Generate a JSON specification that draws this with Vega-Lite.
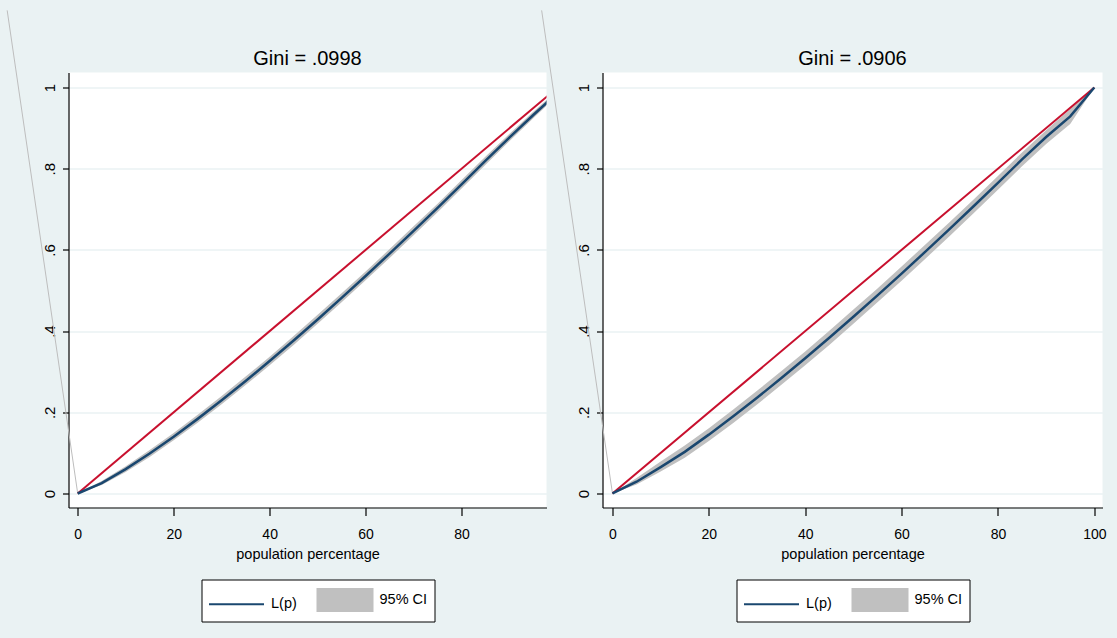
{
  "$schema": "https://vega.github.io/schema/vega-lite/v6.json",
  "background": "#EAF2F3",
  "padding": {"left": 4.5, "top": 7.5, "right": 14, "bottom": 17},
  "bounds": "flush",
  "spacing": 56,
  "datasets": {
    "left": [
      {"p": 0, "L": 0, "lo": 0, "hi": 0},
      {"p": 5, "L": 0.0257, "lo": 0.021, "hi": 0.031},
      {"p": 10, "L": 0.06, "lo": 0.053, "hi": 0.067},
      {"p": 15, "L": 0.0985, "lo": 0.09, "hi": 0.107},
      {"p": 20, "L": 0.1399, "lo": 0.131, "hi": 0.149},
      {"p": 25, "L": 0.1838, "lo": 0.174, "hi": 0.194},
      {"p": 30, "L": 0.2296, "lo": 0.22, "hi": 0.24},
      {"p": 35, "L": 0.2772, "lo": 0.267, "hi": 0.288},
      {"p": 40, "L": 0.3264, "lo": 0.316, "hi": 0.337},
      {"p": 45, "L": 0.3769, "lo": 0.366, "hi": 0.388},
      {"p": 50, "L": 0.4287, "lo": 0.418, "hi": 0.44},
      {"p": 55, "L": 0.4817, "lo": 0.471, "hi": 0.493},
      {"p": 60, "L": 0.5357, "lo": 0.525, "hi": 0.547},
      {"p": 65, "L": 0.5908, "lo": 0.58, "hi": 0.602},
      {"p": 70, "L": 0.6467, "lo": 0.636, "hi": 0.658},
      {"p": 75, "L": 0.7036, "lo": 0.693, "hi": 0.714},
      {"p": 80, "L": 0.7613, "lo": 0.751, "hi": 0.772},
      {"p": 85, "L": 0.8199, "lo": 0.81, "hi": 0.83},
      {"p": 90, "L": 0.877, "lo": 0.868, "hi": 0.886},
      {"p": 95, "L": 0.933, "lo": 0.925, "hi": 0.941},
      {"p": 97.7, "L": 0.962, "lo": 0.955, "hi": 0.969},
      {"p": 100, "L": 1, "lo": 1, "hi": 1}
    ],
    "right": [
      {"p": 0, "L": 0, "lo": 0, "hi": 0},
      {"p": 5, "L": 0.029, "lo": 0.022, "hi": 0.038},
      {"p": 10, "L": 0.065, "lo": 0.054, "hi": 0.079},
      {"p": 15, "L": 0.1026, "lo": 0.088, "hi": 0.118},
      {"p": 20, "L": 0.145, "lo": 0.129, "hi": 0.161},
      {"p": 25, "L": 0.1895, "lo": 0.173, "hi": 0.206},
      {"p": 30, "L": 0.2358, "lo": 0.219, "hi": 0.253},
      {"p": 35, "L": 0.2837, "lo": 0.267, "hi": 0.301},
      {"p": 40, "L": 0.333, "lo": 0.316, "hi": 0.35},
      {"p": 45, "L": 0.3836, "lo": 0.366, "hi": 0.401},
      {"p": 50, "L": 0.4353, "lo": 0.418, "hi": 0.453},
      {"p": 55, "L": 0.488, "lo": 0.471, "hi": 0.505},
      {"p": 60, "L": 0.5417, "lo": 0.524, "hi": 0.559},
      {"p": 65, "L": 0.5963, "lo": 0.579, "hi": 0.614},
      {"p": 70, "L": 0.6518, "lo": 0.634, "hi": 0.669},
      {"p": 75, "L": 0.7081, "lo": 0.691, "hi": 0.725},
      {"p": 80, "L": 0.7651, "lo": 0.748, "hi": 0.782},
      {"p": 85, "L": 0.8228, "lo": 0.806, "hi": 0.84},
      {"p": 90, "L": 0.878, "lo": 0.861, "hi": 0.895},
      {"p": 95, "L": 0.929, "lo": 0.91, "hi": 0.947},
      {"p": 100, "L": 1, "lo": 1, "hi": 1}
    ],
    "eq": [{"p": 0, "v": 0}, {"p": 100, "v": 1}],
    "art": [{"p": 0, "v": 0}, {"p": -14.7, "v": 1.19}]
  },
  "hconcat": [
    {
      "width": 478,
      "height": 435,
      "title": {"text": "Gini = .0998"},
      "layer": [
        {
          "data": {"name": "left"},
          "mark": {"type": "area", "clip": true, "opacity": 1, "fillOpacity": 1},
          "encoding": {
            "x": {"field": "p", "type": "quantitative", "scale": {"domain": [-1.92, 97.7], "nice": false, "zero": false}, "axis": {"values": [0, 20, 40, 60, 80], "title": "population percentage"}},
            "y": {"field": "lo", "type": "quantitative", "scale": {"domain": [-0.0345, 1.037], "nice": false, "zero": false}, "axis": {"values": [0, 0.2, 0.4, 0.6, 0.8, 1], "title": null, "labelExpr": "datum.value == 0 ? '0' : datum.value == 1 ? '1' : replace(format(datum.value, '.1f'), '0.', '.')"}},
            "y2": {"field": "hi"},
            "color": {"datum": "95% CI", "type": "nominal", "scale": {"domain": ["L(p)", "95% CI"], "range": ["#1A476F", "#C0C0C0"]},
              "legend": {"orient": "none", "legendX": 133, "legendY": 507, "direction": "horizontal", "title": null,
                "symbolType": {"expr": "datum.value === 'L(p)' ? 'M-1,0H3.231' : 'M-1,-0.846H3.231V0.846H-1Z'"}}}
          }
        },
        {
          "data": {"name": "art"},
          "mark": {"type": "line", "clip": false, "color": "#BDBDBD", "strokeWidth": 1},
          "encoding": {"x": {"field": "p", "type": "quantitative"}, "y": {"field": "v", "type": "quantitative"}}
        },
        {
          "data": {"name": "eq"},
          "mark": {"type": "line", "clip": true, "color": "#C8102E", "strokeWidth": 2},
          "encoding": {"x": {"field": "p", "type": "quantitative"}, "y": {"field": "v", "type": "quantitative"}}
        },
        {
          "data": {"name": "left"},
          "mark": {"type": "line", "clip": true, "strokeWidth": 2.5},
          "encoding": {
            "x": {"field": "p", "type": "quantitative"},
            "y": {"field": "L", "type": "quantitative"},
            "color": {"datum": "L(p)", "type": "nominal"}
          }
        }
      ]
    },
    {
      "width": 500,
      "height": 435,
      "title": {"text": "Gini = .0906"},
      "layer": [
        {
          "data": {"name": "right"},
          "mark": {"type": "area", "clip": true, "opacity": 1, "fillOpacity": 1},
          "encoding": {
            "x": {"field": "p", "type": "quantitative", "scale": {"domain": [-2.07, 101.7], "nice": false, "zero": false}, "axis": {"values": [0, 20, 40, 60, 80, 100], "title": "population percentage"}},
            "y": {"field": "lo", "type": "quantitative", "scale": {"domain": [-0.0345, 1.037], "nice": false, "zero": false}, "axis": {"values": [0, 0.2, 0.4, 0.6, 0.8, 1], "title": null, "labelExpr": "datum.value == 0 ? '0' : datum.value == 1 ? '1' : replace(format(datum.value, '.1f'), '0.', '.')"}},
            "y2": {"field": "hi"},
            "color": {"datum": "95% CI", "type": "nominal", "scale": {"domain": ["L(p)", "95% CI"], "range": ["#1A476F", "#C0C0C0"]},
              "legend": {"orient": "none", "legendX": 134, "legendY": 507, "direction": "horizontal", "title": null,
                "symbolType": {"expr": "datum.value === 'L(p)' ? 'M-1,0H3.231' : 'M-1,-0.846H3.231V0.846H-1Z'"}}}
          }
        },
        {
          "data": {"name": "art"},
          "mark": {"type": "line", "clip": false, "color": "#BDBDBD", "strokeWidth": 1},
          "encoding": {"x": {"field": "p", "type": "quantitative"}, "y": {"field": "v", "type": "quantitative"}}
        },
        {
          "data": {"name": "eq"},
          "mark": {"type": "line", "clip": true, "color": "#C8102E", "strokeWidth": 2},
          "encoding": {"x": {"field": "p", "type": "quantitative"}, "y": {"field": "v", "type": "quantitative"}}
        },
        {
          "data": {"name": "right"},
          "mark": {"type": "line", "clip": true, "strokeWidth": 2.5},
          "encoding": {
            "x": {"field": "p", "type": "quantitative"},
            "y": {"field": "L", "type": "quantitative"},
            "color": {"datum": "L(p)", "type": "nominal"}
          }
        }
      ]
    }
  ],
  "resolve": {"scale": {"color": "independent", "x": "independent", "y": "independent"}, "legend": {"color": "independent"}},
  "config": {
    "font": "Liberation Sans",
    "view": {"stroke": null, "fill": "white"},
    "title": {"fontSize": 20, "fontWeight": "normal", "color": "#000000", "baseline": "alphabetic", "offset": -61, "anchor": "middle", "font": "Liberation Sans"},
    "axis": {"domainColor": "#000000", "tickColor": "#000000", "domainWidth": 1.2, "tickWidth": 1.2, "labelColor": "#000000", "titleColor": "#000000", "labelFont": "Liberation Sans", "titleFont": "Liberation Sans", "labelFontSize": 14, "titleFontSize": 14.5, "titleFontWeight": "normal", "labelFlush": false, "labelOverlap": false},
    "axisX": {"tickSize": 8, "labelPadding": 12, "titlePadding": 6, "grid": false},
    "axisY": {"tickSize": 6, "labelPadding": 8, "labelFontSize": 15, "labelAngle": 270, "labelAlign": "center", "labelBaseline": "alphabetic", "grid": true, "gridColor": "#EAF2F3", "gridWidth": 1.5},
    "legend": {"labelFont": "Liberation Sans", "labelFontSize": 14.5, "labelColor": "#000000", "symbolSize": 676, "labelOffset": 35, "columnPadding": 16.5, "padding": 6.5, "strokeColor": "#000000", "fillColor": "#FFFFFF", "cornerRadius": 0, "symbolStrokeWidth": 2}
  }
}
